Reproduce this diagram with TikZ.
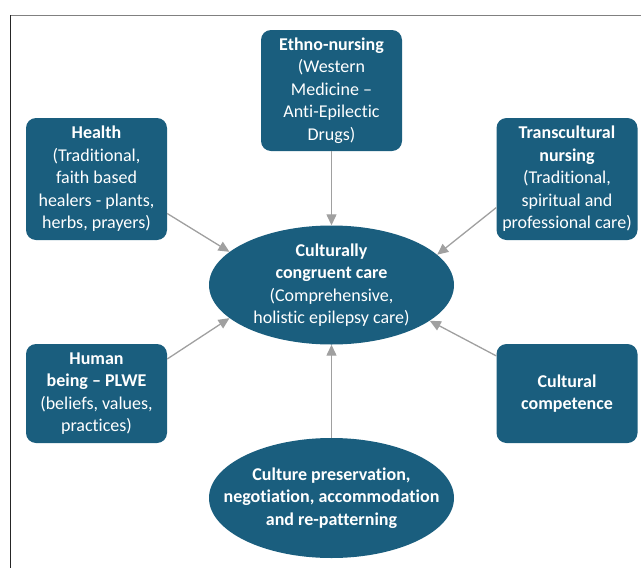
\documentclass[tikz,border=0pt]{standalone}
\usepackage{fontspec}
\setmainfont{Carlito}[Ligatures=NoCommon]
\usetikzlibrary{arrows.meta,shapes.geometric}
\definecolor{boxblue}{RGB}{26,94,126}
\definecolor{linkgray}{RGB}{160,160,160}
\definecolor{framegray}{RGB}{128,128,128}
\begin{document}
\begin{tikzpicture}[x=1pt,y=-1pt,
  txt/.style={text=white, align=center, font=\fontsize{18}{22.5}\selectfont, inner sep=0pt},
  box/.style={txt, rectangle, rounded corners=10pt, fill=boxblue, minimum width=141pt},
  oval/.style={txt, ellipse, fill=boxblue, inner sep=-25pt, minimum width=245pt, minimum height=119pt},
  link/.style={draw=linkgray, line width=1.3pt, -{Triangle[length=11pt,width=10pt]}}]
\useasboundingbox (0,0) rectangle (641,568);
% frame
\draw[framegray, line width=1pt] (10,15) -- (641,15);
\draw[black!85, line width=1pt] (10.5,15) -- (10.5,568);

% centre and surrounding concepts
\node[oval] (care) at (331.5,285) {\textbf{Culturally}\\\textbf{congruent care}\\(Comprehensive,\\holistic epilepsy care)};
\node[box, minimum height=121pt] (ethno) at (331.5,90.5) {\textbf{Ethno-nursing}\\(Western\\Medicine --\\Anti-Epilectic\\Drugs)};
\node[box, minimum height=122pt] (health) at (96.5,179) {\textbf{Health}\\(Traditional,\\faith based\\healers - plants,\\herbs, prayers)};
\node[box, minimum height=122pt] (trans) at (567,179) {\textbf{Transcultural}\\\textbf{nursing}\\(Traditional,\\spiritual and\\professional care)};
\node[box, minimum height=99pt] (human) at (96.5,393.5) {\textbf{Human}\\\textbf{being -- PLWE}\\(beliefs, values,\\practices)};
\node[box, minimum height=99pt] (comp) at (567,393.5) {\textbf{Cultural}\\\textbf{competence}};
\node[oval, minimum height=120pt] (pres) at (331.5,498) {\textbf{Culture preservation,}\\\textbf{negotiation, accommodation}\\\textbf{and re-patterning}};

% connectors
\draw[link] (ethno.south) -- (care.north);
\draw[link] (health.-26.4) -- (care.162.6);
\draw[link] (trans.202.5) -- (care.16.9);
\draw[link] (human.26) -- (care.198.5);
\draw[link] (comp.152.5) -- (care.-20);
\draw[link] (pres.north) -- (care.south);
\end{tikzpicture}
\end{document}
